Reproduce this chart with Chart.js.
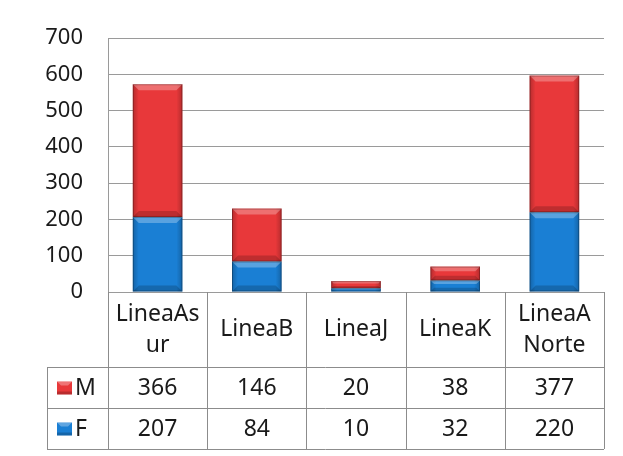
<!DOCTYPE html>
<html lang="es">
<head>
    <meta charset="UTF-8">
    <title>Lineas M / F</title>
    <script src="https://cdn.jsdelivr.net/npm/chart.js"></script>
    <style>
        html, body { margin: 0; padding: 0; background: #fff; }
        #wrap { width: 623px; height: 456px; }
    </style>
</head>
<body>
    <div id="wrap"><canvas id="chart" width="623" height="456"></canvas></div>

    <script>
        // header cell text, one entry per line
        const categories = [['LineaAs', 'ur'], ['LineaB'], ['LineaJ'], ['LineaK'], ['LineaA', 'Norte']];
        const valuesM = [366, 146, 20, 38, 377];
        const valuesF = [207, 84, 10, 32, 220];
        const yTicks = [0, 100, 200, 300, 400, 500, 600, 700];

        const RED = '#e8383a';
        const BLUE = '#1a7fd4';
        const FONT = '"Noto Sans", "Open Sans", sans-serif';
        const LINE = '#8c8c8c';

        // bevelled look on every bar
        const bevelPlugin = {
            id: 'bevel',
            afterDatasetsDraw(chart) {
                const ctx = chart.ctx;
                chart.data.datasets.forEach((ds, di) => {
                    chart.getDatasetMeta(di).data.forEach(bar => {
                        const { x, y, base, width } = bar.getProps(['x', 'y', 'base', 'width'], true);
                        const l = x - width / 2, r = x + width / 2;
                        const t = Math.min(y, base), b = Math.max(y, base);
                        const h = b - t;
                        if (h <= 0) return;
                        const bv = Math.min(6, h / 3);
                        ctx.save();
                        // side shading
                        const g = ctx.createLinearGradient(l, 0, r, 0);
                        g.addColorStop(0, 'rgba(0,0,0,0.22)');
                        g.addColorStop(0.12, 'rgba(0,0,0,0)');
                        g.addColorStop(0.88, 'rgba(0,0,0,0)');
                        g.addColorStop(1, 'rgba(0,0,0,0.22)');
                        ctx.fillStyle = g;
                        ctx.fillRect(l, t, width, h);
                        // top highlight
                        ctx.fillStyle = 'rgba(255,255,255,0.28)';
                        ctx.beginPath();
                        ctx.moveTo(l, t);
                        ctx.lineTo(r, t);
                        ctx.lineTo(r - bv, t + bv);
                        ctx.lineTo(l + bv, t + bv);
                        ctx.closePath();
                        ctx.fill();
                        // bottom shade
                        ctx.fillStyle = 'rgba(0,0,0,0.18)';
                        ctx.beginPath();
                        ctx.moveTo(l, b);
                        ctx.lineTo(r, b);
                        ctx.lineTo(r - bv, b - bv);
                        ctx.lineTo(l + bv, b - bv);
                        ctx.closePath();
                        ctx.fill();
                        ctx.strokeStyle = 'rgba(0,0,0,0.25)';
                        ctx.lineWidth = 1;
                        ctx.strokeRect(l + 0.5, t + 0.5, width - 1, h - 1);
                        ctx.restore();
                    });
                });
            }
        };

        // data table below the plot
        const tablePlugin = {
            id: 'dataTable',
            afterDraw(chart) {
                const ctx = chart.ctx;
                const xs = chart.scales.x;
                const area = chart.chartArea;
                const n = categories.length;
                const cw = (area.right - area.left) / n;
                const top = area.bottom;
                const rowM = 367, rowF = 408, bottom = 449;
                const legL = 47;
                const right = area.left + cw * n;

                ctx.save();
                ctx.strokeStyle = LINE;
                ctx.lineWidth = 1;
                const hl = (x1, x2, y) => { ctx.beginPath(); ctx.moveTo(x1, Math.round(y) + 0.5); ctx.lineTo(x2, Math.round(y) + 0.5); ctx.stroke(); };
                const vl = (x, y1, y2) => { ctx.beginPath(); ctx.moveTo(Math.round(x) + 0.5, y1); ctx.lineTo(Math.round(x) + 0.5, y2); ctx.stroke(); };

                for (let i = 0; i <= n; i++) vl(area.left + cw * i, top, bottom);
                vl(legL, rowM, bottom);
                hl(legL, right, rowM);
                hl(legL, right, rowF);
                hl(legL, right, bottom);

                ctx.fillStyle = '#1a1a1a';
                ctx.textAlign = 'center';
                ctx.textBaseline = 'middle';
                ctx.font = '23px ' + FONT;
                categories.forEach((lines, i) => {
                    const cx = xs.getPixelForValue(i);
                    const mid = (top + rowM) / 2;
                    const lh = 31;
                    lines.forEach((s, k) => {
                        ctx.fillText(s, cx, mid + (k - (lines.length - 1) / 2) * lh);
                    });
                });

                ctx.font = '23px ' + FONT;
                valuesM.forEach((v, i) => ctx.fillText(String(v), xs.getPixelForValue(i), (rowM + rowF) / 2 + 1));
                valuesF.forEach((v, i) => ctx.fillText(String(v), xs.getPixelForValue(i), (rowF + bottom) / 2 + 1));

                // legend keys
                const key = (y, col, label) => {
                    ctx.fillStyle = col;
                    ctx.fillRect(57, y - 6, 15, 13);
                    ctx.fillStyle = 'rgba(255,255,255,0.3)';
                    ctx.beginPath();
                    ctx.moveTo(57, y - 6); ctx.lineTo(72, y - 6); ctx.lineTo(68, y - 2); ctx.lineTo(61, y - 2);
                    ctx.closePath(); ctx.fill();
                    ctx.fillStyle = 'rgba(0,0,0,0.2)';
                    ctx.fillRect(57, y + 4, 15, 3);
                    ctx.fillStyle = '#1a1a1a';
                    ctx.textAlign = 'left';
                    ctx.fillText(label, 75, y + 1);
                };
                ctx.font = '23px ' + FONT;
                key((rowM + rowF) / 2, RED, 'M');
                key((rowF + bottom) / 2, BLUE, 'F');
                ctx.restore();
            }
        };

        new Chart(document.getElementById('chart'), {
            type: 'bar',
            data: {
                labels: categories.map(c => c.join('')),
                datasets: [
                    { label: 'F', data: valuesF, backgroundColor: BLUE, borderWidth: 0, categoryPercentage: 0.5, barPercentage: 1 },
                    { label: 'M', data: valuesM, backgroundColor: RED, borderWidth: 0, categoryPercentage: 0.5, barPercentage: 1 }
                ]
            },
            options: {
                responsive: false,
                animation: false,
                layout: { padding: { left: 0, top: 36, right: 19, bottom: 164 } },
                plugins: { legend: { display: false }, tooltip: { enabled: false } },
                scales: {
                    x: { stacked: true, display: false },
                    y: {
                        stacked: true,
                        min: 0,
                        max: 700,
                        afterBuildTicks: s => { s.ticks = yTicks.map(v => ({ value: v })); },
                        afterFit: s => { s.width = 108; },
                        grid: { color: '#9a9a9a', drawTicks: false },
                        border: { color: '#9a9a9a' },
                        ticks: { padding: 25, color: '#1a1a1a', font: { family: FONT, size: 22 } }
                    }
                }
            },
            plugins: [bevelPlugin, tablePlugin]
        });
    </script>
</body>
</html>
